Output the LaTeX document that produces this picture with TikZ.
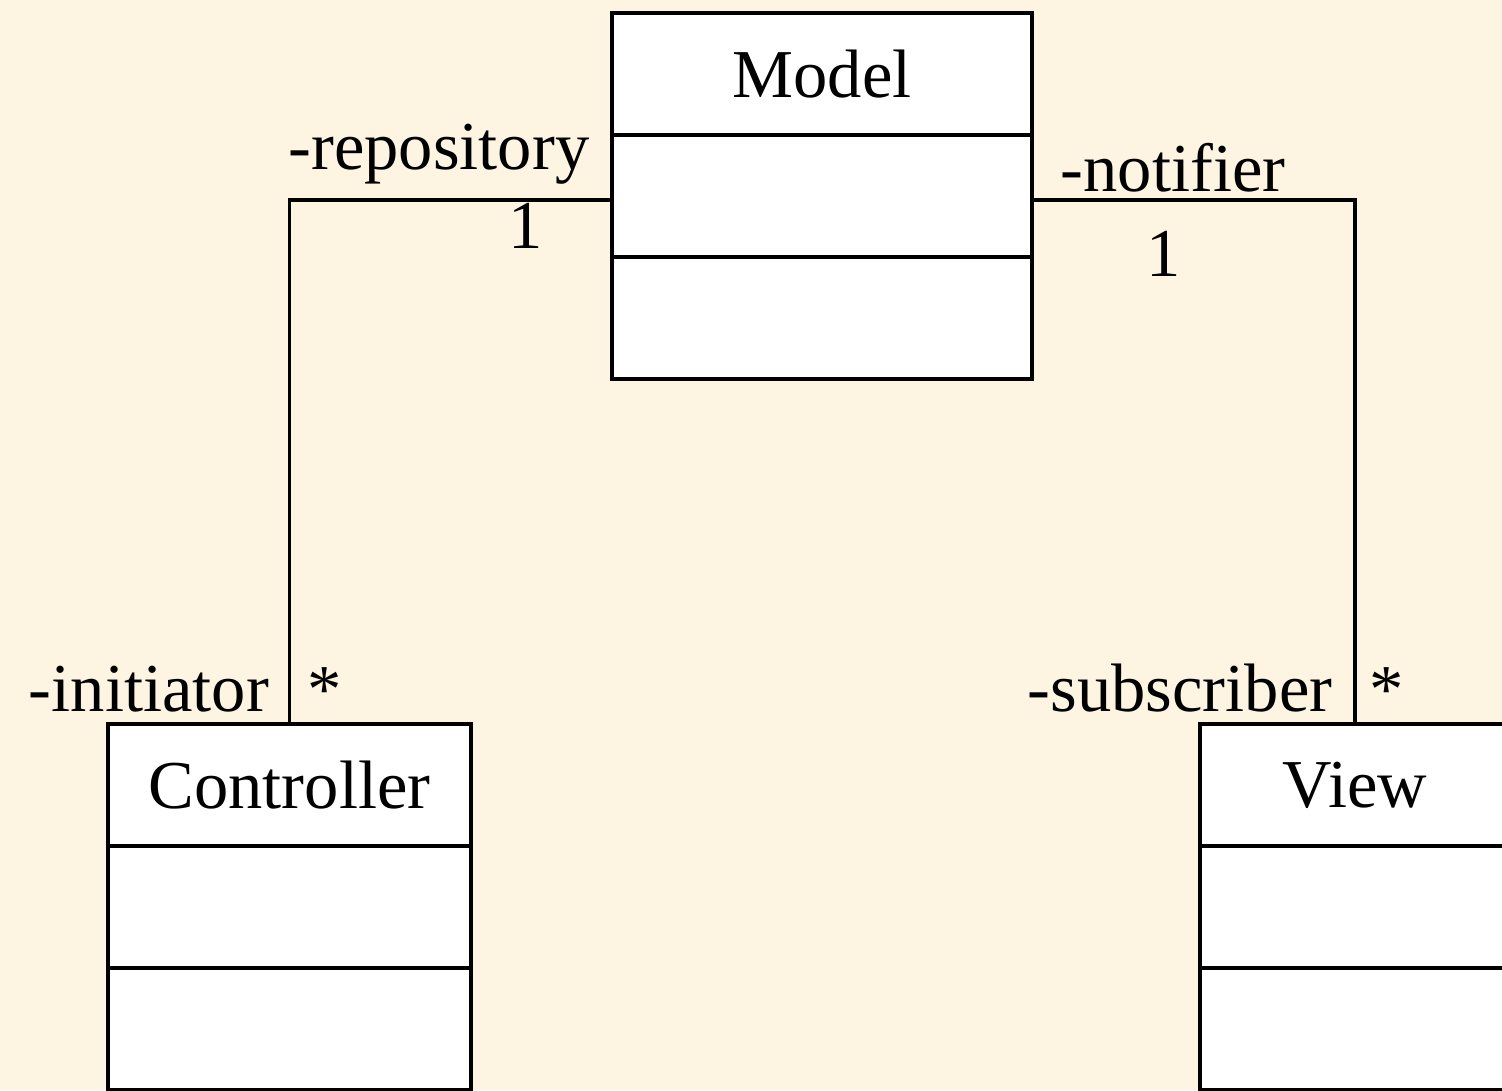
\documentclass[tikz,border=0pt]{standalone}
\usepackage{fontspec}
\setmainfont{Liberation Serif}
\usepackage{tikz}
\usetikzlibrary{positioning}
\definecolor{paper}{HTML}{FDF5E2}

\begin{document}
\begin{tikzpicture}[
    node distance=0pt,
    part/.style={rectangle, draw, fill=white, line width=0.032cm, outer sep=0pt, minimum height=1.22cm, inner sep=0pt, font=\fontsize{19.5}{22}\selectfont},
    lbl/.style={inner sep=0pt, font=\fontsize{19.5}{22}\selectfont},
    link/.style={line width=0.032cm},
]
\fill[paper] (0,0) rectangle (15.02,10.90);
\useasboundingbox (0,0) rectangle (15.02,10.90);

% Model
\node[part, minimum width=4.2cm] (mdl_name) at (8.22,10.16) {Model};
\node[part, minimum width=4.2cm, below=of mdl_name] (mdl_attr) {};
\node[part, minimum width=4.2cm, below=of mdl_attr] (mdl_ops) {};

% Controller
\node[part, minimum width=3.63cm] (ctl_name) at (2.895,3.05) {Controller};
\node[part, minimum width=3.63cm, below=of ctl_name] (ctl_attr) {};
\node[part, minimum width=3.63cm, below=of ctl_attr] (ctl_ops) {};

% View
\node[part, minimum width=3.1cm] (view_name) at (13.55,3.05) {View};
\node[part, minimum width=3.1cm, below=of view_name] (view_attr) {};
\node[part, minimum width=3.1cm, below=of view_attr] (view_ops) {};

\coordinate (rep_end) at ([yshift=-0.04cm]mdl_attr.west);
\coordinate (not_end) at ([yshift=-0.04cm]mdl_attr.east);
\draw[link] (rep_end) -| (ctl_name.north);
\draw[link] (not_end) -| (view_name.north);

% roles
\node[lbl, above left=0.15cm and 0.22cm of rep_end] (rep_lbl) {-repository};
\node[lbl, below left=0.03cm and 0.69cm of rep_end] (rep_mult) {1};
\node[lbl, above right=0.07cm and 0.28cm of not_end] (not_lbl) {-notifier};
\node[lbl, below right=0.31cm and 1.14cm of not_end] (not_mult) {1};
\node[lbl, above left=0.11cm and 0.2cm of ctl_name.north] (ini_lbl) {-initiator};
\node[lbl, above right=0.11cm and 0.17cm of ctl_name.north] (ini_mult) {*};
\node[lbl, above left=0.11cm and 0.22cm of view_name.north] (sub_lbl) {-subscriber};
\node[lbl, above right=0.11cm and 0.14cm of view_name.north] (sub_mult) {*};

\end{tikzpicture}
\end{document}
